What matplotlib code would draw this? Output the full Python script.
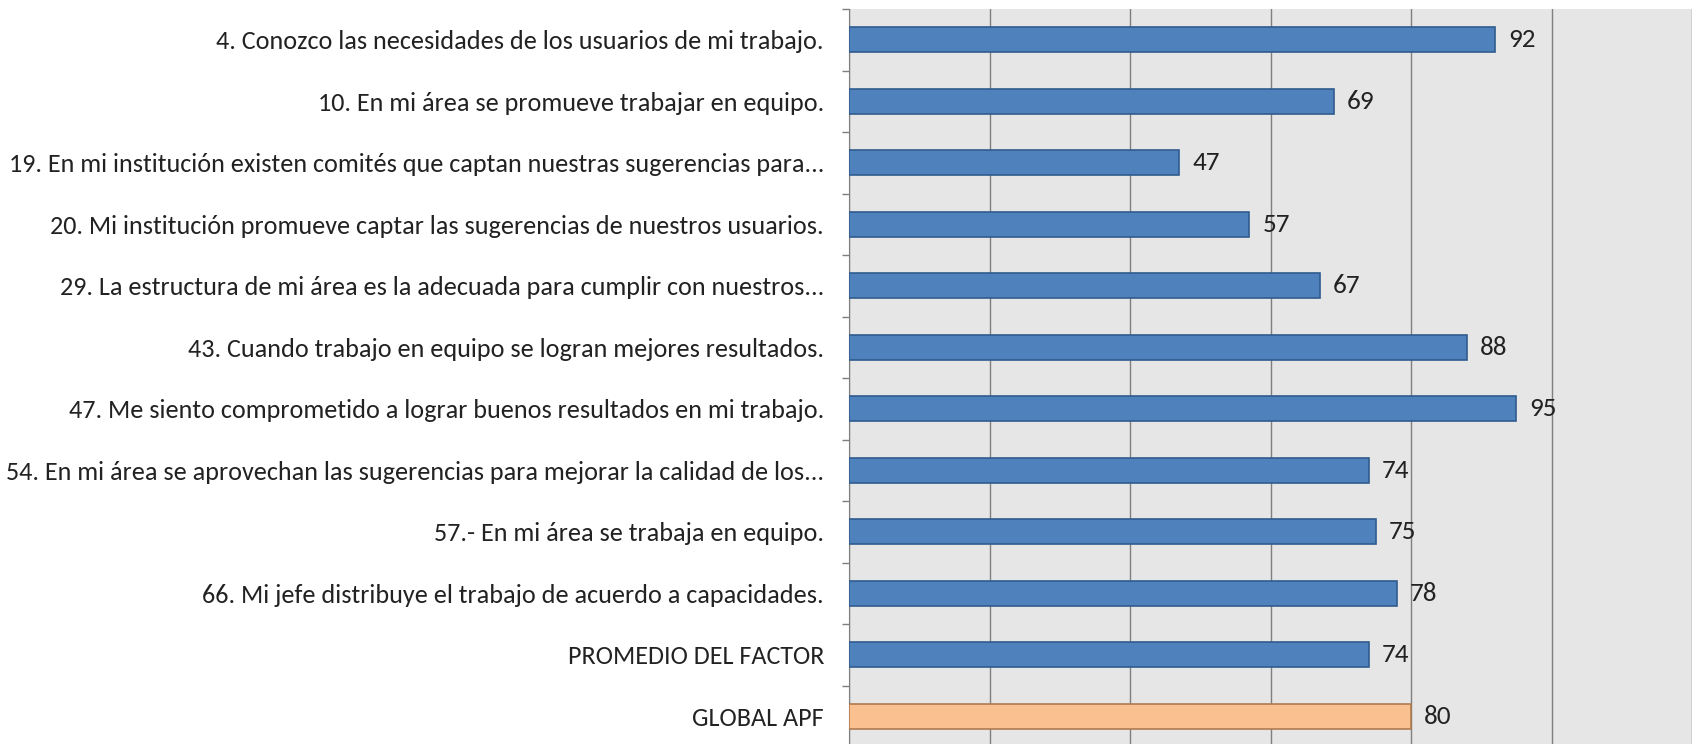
import numpy as np
import matplotlib.pyplot as plt

labels = [
    "4. Conozco las necesidades de los usuarios de mi trabajo.",
    "10. En mi área se promueve trabajar en equipo.",
    "19. En mi institución existen comités que captan nuestras sugerencias para...",
    "20. Mi institución promueve captar las sugerencias de nuestros usuarios.",
    "29. La estructura de mi área es la adecuada para cumplir con nuestros...",
    "43. Cuando trabajo en equipo se logran mejores resultados.",
    "47. Me siento comprometido a lograr buenos resultados en mi trabajo.",
    "54. En mi área se aprovechan las sugerencias para mejorar la calidad de los...",
    "57.- En mi área se trabaja en equipo.",
    "66. Mi jefe distribuye el trabajo de acuerdo a capacidades.",
    "PROMEDIO DEL FACTOR",
    "GLOBAL APF",
]
values = [92, 69, 47, 57, 67, 88, 95, 74, 75, 78, 74, 80]
colors = ["#4F81BD"] * 11 + ["#FAC090"]
edges = ["#2F5C8F"] * 11 + ["#B07A50"]

plt.rcParams['font.family'] = ['Carlito', 'Archivo Narrow', 'DejaVu Sans']

fig = plt.figure(figsize=(17.04, 7.44), dpi=100)
ax = fig.add_axes([849 / 1704, -3 / 744, (1692 - 849) / 1704, 738 / 744])

y = np.arange(len(values))
ax.barh(y, values, height=0.4, color=colors, edgecolor=edges, linewidth=1.2, zorder=3)

for yi, v in zip(y, values):
    ax.text(v + 1.85, yi, str(v), va="center", ha="left", fontsize=19.5, color="#222222", zorder=4)

ax.set_facecolor("#E6E6E6")
ax.set_xlim(0, 120)
ax.set_ylim(len(values) - 0.5, -0.5)
ax.set_xticks(np.arange(0, 121, 20))
ax.xaxis.grid(True, color="#7F7F7F", linewidth=1.0, zorder=1)
ax.tick_params(axis="x", bottom=False, labelbottom=False)

ax.set_yticks(y)
ax.set_yticklabels(labels, fontsize=18.8, color="#222222")
ax.tick_params(axis="y", which="major", length=0, pad=18)
ax.set_yticks(np.arange(-0.5, len(values), 1.0), minor=True)
ax.tick_params(axis="y", which="minor", length=5, color="#7F7F7F", width=1.0)

for s in ["top", "right", "bottom"]:
    ax.spines[s].set_visible(False)
ax.spines["left"].set_color("#7F7F7F")

fig.savefig("out.png", dpi=100)
